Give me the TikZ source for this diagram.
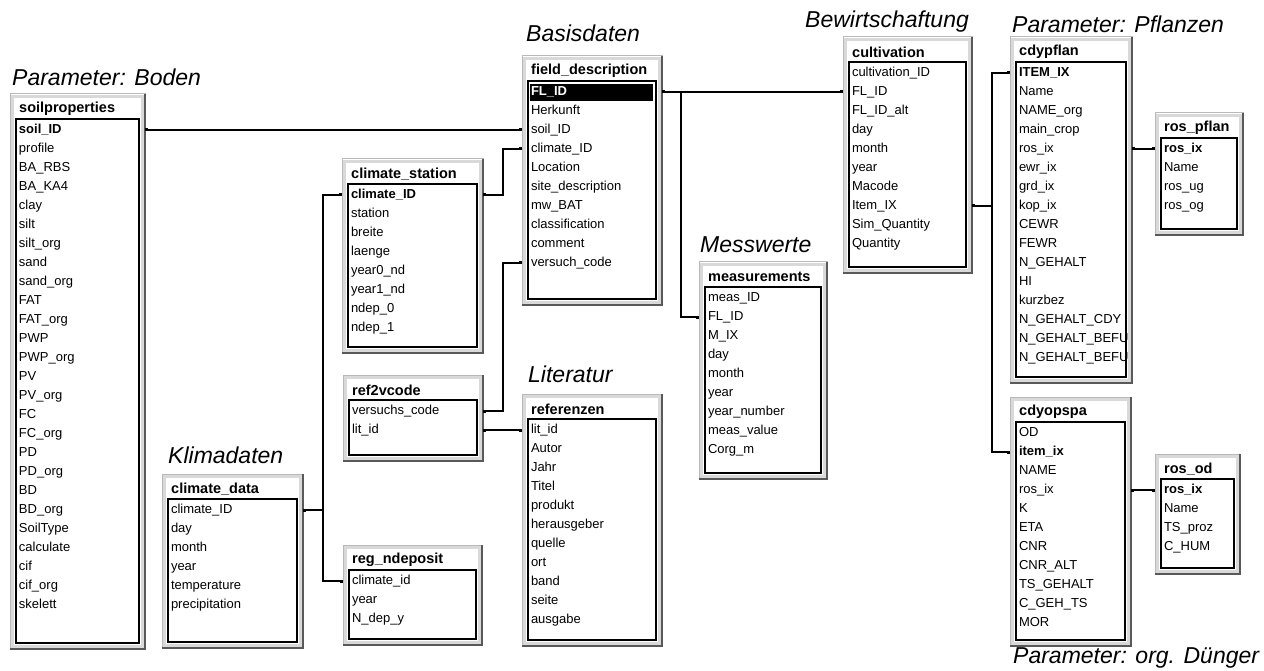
\documentclass[tikz,border=0pt]{standalone}
\usepackage{fontspec}
\setmainfont{Liberation Sans}
\usepackage{xcolor}
\usetikzlibrary{
arrows.meta,
calc
}

\tikzset{
    tblframe/.style={draw=gray!55, fill=white, line width=1pt, inner sep=0pt, outer sep=0pt, anchor=north west},
    tblbevel/.style={draw=gray!30, line width=3pt},
    tblshade/.style={draw=gray!70!black, line width=1.2pt},
    tbllist/.style={draw=black, line width=1.2pt},
    tbltitle/.style={font=\fontsize{14.5}{16}\selectfont\bfseries, inner sep=0pt, anchor=west},
    tblrow/.style={font=\fontsize{13}{15}\selectfont, inner xsep=9pt, inner ysep=0pt, outer sep=0pt, text height=10pt, text depth=3pt, align=left, anchor=west},
    grouplabel/.style={font=\fontsize{23}{27}\selectfont\itshape, inner sep=0pt, anchor=base west},
    relline/.style={line width=1.3pt, {Square[length=3pt,width=3pt]}-{Square[length=3pt,width=3pt]}}
}

\newcommand{\selfld}[1]{{\setlength{\fboxsep}{1pt}\hspace*{-1pt}\colorbox{black}{\makebox[\dimexpr\linewidth-1pt\relax][l]{\strut\color{white}\bfseries #1}}}}

\newcommand{\dbtable}[7]{%
    \node[tblframe, minimum width=#4pt, minimum height=#5pt] (#1) at (#2,#3) {};
    \draw[tblbevel] ($(#1.north west)+(2.5,2.5)$) rectangle ($(#1.south east)+(-2.5,-2.5)$);
    \draw[tblshade] (#1.north east) -- (#1.south east) -- (#1.south west);
    \draw[tbllist] ($(#1.north west)+(6,25)$) rectangle ($(#1.south east)+(-6,-6)$);
    \node[tbltitle] (#1-title) at ($(#1.north west)+(9,15)$) {#6};
    \pgfmathsetmacro{\rowwidth}{#4-18}
    \foreach \fld [count=\i] in {#7}
        \node[tblrow, text width=\rowwidth pt] (#1-\i) at ($(#1.north west)+(0,{36+19*(\i-1)})$) {\mbox{\fld}};
}

\begin{document}
\begin{tikzpicture}[x=1pt, y=-1pt]
    \path[fill=white, use as bounding box] (0,0) rectangle (1264,671);

    \dbtable{soil}{10}{94}{135}{555}{soilproperties}{\textbf{soil\_ID}, profile, BA\_RBS, BA\_KA4, clay, silt, silt\_org, sand, sand\_org, FAT, FAT\_org, PWP, PWP\_org, PV, PV\_org, FC, FC\_org, PD, PD\_org, BD, BD\_org, SoilType, calculate, cif, cif\_org, skelett}
    \dbtable{field}{522}{56}{140}{249}{field\_description}{\selfld{FL\_ID}, Herkunft, soil\_ID, climate\_ID, Location, site\_description, mw\_BAT, classification, comment, versuch\_code}
    \dbtable{station}{342}{159}{141}{194}{climate\_station}{\textbf{climate\_ID}, station, breite, laenge, year0\_nd, year1\_nd, ndep\_0, ndep\_1}
    \dbtable{cult}{843}{37}{129}{236}{cultivation}{cultivation\_ID, FL\_ID, FL\_ID\_alt, day, month, year, Macode, Item\_IX, Sim\_Quantity, Quantity}
    \dbtable{cdyp}{1010}{37}{122}{346}{cdypflan}{\textbf{ITEM\_IX}, Name, NAME\_org, main\_crop, ros\_ix, ewr\_ix, grd\_ix, kop\_ix, CEWR, FEWR, N\_GEHALT, HI, kurzbez, N\_GEHALT\_CDY, N\_GEHALT\_BEFU, N\_GEHALT\_BEFU}
    \dbtable{rosp}{1155}{113}{88}{122}{ros\_pflan}{\textbf{ros\_ix}, Name, ros\_ug, ros\_og}
    \dbtable{cdyo}{1010}{397}{121}{249}{cdyopspa}{OD, \textbf{item\_ix}, NAME, ros\_ix, K, ETA, CNR, CNR\_ALT, TS\_GEHALT, C\_GEH\_TS, MOR}
    \dbtable{rosod}{1155}{454}{85}{120}{ros\_od}{\textbf{ros\_ix}, Name, TS\_proz, C\_HUM}
    \dbtable{meas}{699}{262}{128}{217}{measurements}{meas\_ID, FL\_ID, M\_IX, day, month, year, year\_number, meas\_value, Corg\_m}
    \dbtable{ref2v}{343}{375}{140}{86}{ref2vcode}{versuchs\_code, lit\_id}
    \dbtable{refz}{522}{394}{140}{252}{referenzen}{lit\_id, Autor, Jahr, Titel, produkt, herausgeber, quelle, ort, band, seite, ausgabe}
    \dbtable{cdata}{162}{474}{141}{174}{climate\_data}{climate\_ID, day, month, year, temperature, precipitation}
    \dbtable{regnd}{343}{545}{139}{100}{reg\_ndeposit}{climate\_id, year, N\_dep\_y}

    \node[grouplabel] (lblboden) at (12,86) {Parameter: Boden};
    \node[grouplabel] (lblbasis) at (526,42) {Basisdaten};
    \node[grouplabel] (lblbewirt) at (805,28) {Bewirtschaftung};
    \node[grouplabel] (lblpflanzen) at (1012,33) {Parameter: Pflanzen};
    \node[grouplabel] (lblmess) at (700,252) {Messwerte};
    \node[grouplabel] (lblliteratur) at (528,382) {Literatur};
    \node[grouplabel] (lblklima) at (168,463) {Klimadaten};
    \node[grouplabel] (lblduenger) at (1013,663) {Parameter: org. Dünger};

    \draw[relline] (soil-1.east) -- (field-3.west);
    \draw[relline] (field-4.west) -- ++(-19,0) |- (station-1.east);
    \draw[relline] (station-1.west) -- ++(-19,0) |- (cdata-1.east);
    \draw[relline] (station-1.west) -- ++(-19,0) |- (regnd-1.west);
    \draw[relline] (field-10.west) -- ++(-19,0) |- (ref2v-1.east);
    \draw[relline] (ref2v-2.east) -- (refz-1.west);
    \draw[relline] (field-1.east) -- (cult-2.west);
    \draw[relline] (field-1.east) -- ++(19,0) |- (meas-2.west);
    \draw[relline] (cult-8.east) -- ++(20,0) |- (cdyp-1.west);
    \draw[relline] (cult-8.east) -- ++(20,0) |- (cdyo-2.west);
    \draw[relline] (cdyp-5.east) -- (rosp-1.west);
    \draw[relline] (cdyo-4.east) -- (rosod-1.west);
\end{tikzpicture}
\end{document}
